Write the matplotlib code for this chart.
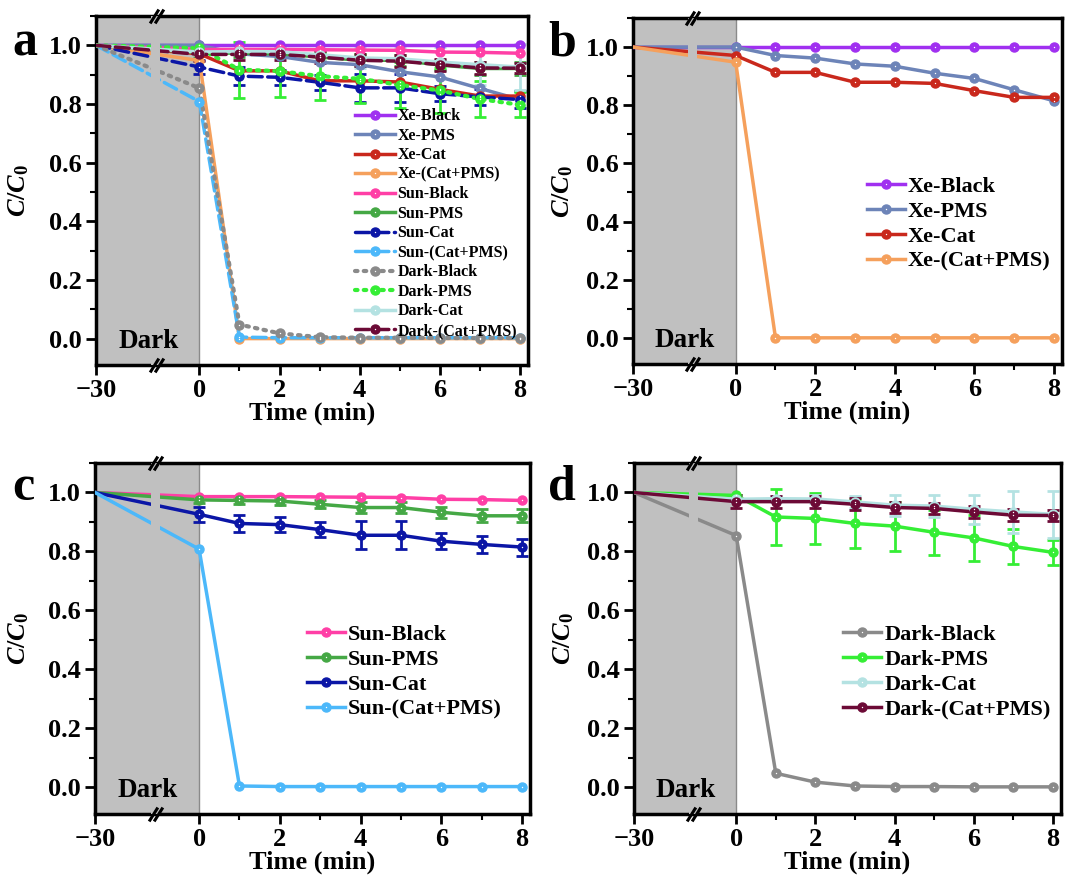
import matplotlib.pyplot as plt
import numpy as np
from matplotlib.transforms import blended_transform_factory
from matplotlib.ticker import MultipleLocator

plt.rcParams['font.family'] = 'Liberation Serif'
plt.rcParams['font.weight'] = 'bold'
plt.rcParams['mathtext.fontset'] = 'custom'
plt.rcParams['mathtext.it'] = 'Liberation Serif:italic:bold'
plt.rcParams['mathtext.rm'] = 'Liberation Serif:bold'

# time points (min), -30 is the dark adsorption start
time = [-30, 0, 1, 2, 3, 4, 5, 6, 7, 8]

xe_black = [1.0, 1.0, 1.0, 1.0, 1.0, 1.0, 1.0, 1.0, 1.0, 1.0]
xe_pms = [1.0, 1.0, 0.971, 0.962, 0.942, 0.934, 0.910, 0.892, 0.853, 0.815]
xe_cat = [1.0, 0.971, 0.913, 0.913, 0.879, 0.879, 0.875, 0.850, 0.827, 0.827]
xe_cat_pms = [1.0, 0.948, 0.0, 0.0, 0.0, 0.0, 0.0, 0.0, 0.0, 0.0]

sun_black = [1.0, 0.986, 0.986, 0.986, 0.985, 0.984, 0.983, 0.977, 0.976, 0.973]
sun_pms = [1.0, 0.975, 0.973, 0.971, 0.960, 0.949, 0.949, 0.933, 0.921, 0.921]
sun_pms_err = [0.012, 0.012, 0.012, 0.014, 0.018, 0.018, 0.018, 0.022, 0.022]
sun_cat = [1.0, 0.926, 0.895, 0.891, 0.874, 0.855, 0.855, 0.835, 0.824, 0.815]
sun_cat_err = [0.025, 0.03, 0.026, 0.025, 0.048, 0.048, 0.026, 0.028, 0.029]
sun_cat_pms = [1.0, 0.808, 0.005, 0.003, 0.003, 0.003, 0.003, 0.003, 0.003, 0.003]

dark_black = [1.0, 0.854, 0.048, 0.018, 0.005, 0.003, 0.003, 0.002, 0.002, 0.002]
dark_pms = [1.0, 0.99, 0.917, 0.912, 0.895, 0.886, 0.865, 0.846, 0.817, 0.797]
dark_pms_err = [0.0, 0.095, 0.087, 0.083, 0.083, 0.077, 0.077, 0.06, 0.043]
dark_cat = [1.0, 0.977, 0.979, 0.978, 0.968, 0.957, 0.954, 0.943, 0.934, 0.926]
dark_cat_err = [0.01, 0.01, 0.015, 0.02, 0.035, 0.037, 0.05, 0.07, 0.08]
dark_cat_pms = [1.0, 0.969, 0.969, 0.969, 0.960, 0.949, 0.946, 0.934, 0.923, 0.922]
dark_cat_pms_err = [0.022, 0.02, 0.02, 0.02, 0.02, 0.02, 0.02, 0.02, 0.017]

XS = 2.58 / 30.0  # compression of the dark period


def fwd(t):
    t = np.asarray(t, dtype=float)
    return np.where(t < 0, t * XS, t)


def inv(u):
    u = np.asarray(u, dtype=float)
    return np.where(u < 0, u / XS, u)


GRAY = '#c0c0c0'
DOTTED = (0, (0.6, 1.5))
DASHED = (0, (4, 1.6))


def setup(ax, bottom):
    ax.set_xscale('function', functions=(fwd, inv))
    ax.set_xlim(-30, 8.2)
    ax.set_ylim(bottom, 1.1)
    ax.axvspan(-30, 0, facecolor=GRAY, edgecolor='none', zorder=0)
    ax.axvline(0, color='#8a8a8a', lw=1, zorder=1)
    # gap in the lines at the axis break
    ax.axvspan(-14.0, -11.3, facecolor=GRAY, edgecolor='none', zorder=8)
    ax.set_xticks([-30, 0, 2, 4, 6, 8])
    ax.set_xticklabels(['\u221230', '0', '2', '4', '6', '8'])
    ax.set_xticks([1, 3, 5, 7], minor=True)
    ax.set_yticks([0.0, 0.2, 0.4, 0.6, 0.8, 1.0])
    ax.set_yticklabels(['0.0', '0.2', '0.4', '0.6', '0.8', '1.0'])
    ax.yaxis.set_minor_locator(MultipleLocator(0.1))
    ax.tick_params(which='major', direction='out', length=7, width=2,
                   labelsize=19, pad=3)
    ax.tick_params(which='minor', direction='out', length=4, width=1.5)
    for s in ax.spines.values():
        s.set_linewidth(2.5)
    ax.set_xlabel('Time (min)', fontsize=19, fontweight='bold', labelpad=0)
    ax.set_ylabel(r'$C/C_0$', fontsize=19)
    ax.text(-14.8, -0.01, 'Dark', fontsize=19.5, fontweight='bold',
            ha='center', va='center', zorder=9)
    trans = blended_transform_factory(ax.transData, ax.transAxes)
    for yy in (0, 1):
        ax.plot([-13.3, -11.8], [yy, yy], ls='none', marker=[(-1, -1.6), (1, 1.6)],
                ms=10, mew=2.2, color='k', transform=trans, clip_on=False, zorder=10)


def draw(ax, vals, color, ls='-', err=None, lw=2.5, ms=6.5):
    line, = ax.plot(time, vals, color=color, ls=ls, lw=lw, zorder=3,
                    dash_capstyle='round')
    mk, = ax.plot(time[1:], vals[1:], ls='none', marker='o', ms=ms,
                  color=color, zorder=4)
    dot, = ax.plot(time[1:], vals[1:], ls='none', marker='o', ms=1.0,
                   mew=0, color='white', zorder=5)
    if err is not None:
        ax.errorbar(time[1:], vals[1:], yerr=err, fmt='none', ecolor=color,
                    elinewidth=2, capsize=4, capthick=2, zorder=2)
    return (line, mk, dot)


fig = plt.figure(figsize=(10.65, 8.83), dpi=100)
W, H = 1065.0, 883.0
ax_a = fig.add_axes([96 / W, 1 - 365 / H, 432 / W, 349 / H])
ax_b = fig.add_axes([633 / W, 1 - 364 / H, 429 / W, 346 / H])
ax_c = fig.add_axes([95 / W, 1 - 814 / H, 435 / W, 351 / H])
ax_d = fig.add_axes([634 / W, 1 - 814 / H, 427 / W, 351 / H])

c_xe_black = '#a030f0'
c_xe_pms = '#6d84b8'
c_xe_cat = '#c9281c'
c_xe_cat_pms = '#f5a05c'
c_sun_black = '#ff3fa6'
c_sun_pms = '#45a845'
c_sun_cat = '#0b16a6'
c_sun_cat_pms = '#4cb8fa'
c_dark_black = '#8a8a8a'
c_dark_pms = '#35ee35'
c_dark_cat = '#b4e2e2'
c_dark_cat_pms = '#6c0a36'

for ax in (ax_a, ax_b, ax_c, ax_d):
    setup(ax, -0.09)

# panel a: all conditions
h = []
h.append(draw(ax_a, xe_black, c_xe_black))
h.append(draw(ax_a, xe_pms, c_xe_pms))
h.append(draw(ax_a, xe_cat, c_xe_cat))
h.append(draw(ax_a, xe_cat_pms, c_xe_cat_pms))
h.append(draw(ax_a, sun_black, c_sun_black))
h.append(draw(ax_a, sun_pms, c_sun_pms, err=sun_pms_err))
h.append(draw(ax_a, sun_cat, c_sun_cat, ls=DASHED, err=sun_cat_err))
h.append(draw(ax_a, sun_cat_pms, c_sun_cat_pms, ls=DASHED))
h.append(draw(ax_a, dark_black, c_dark_black, ls=DOTTED, lw=3))
h.append(draw(ax_a, dark_pms, c_dark_pms, ls=DOTTED, lw=3, err=dark_pms_err))
h.append(draw(ax_a, dark_cat, c_dark_cat, err=dark_cat_err))
h.append(draw(ax_a, dark_cat_pms, c_dark_cat_pms, ls=DASHED, err=dark_cat_pms_err))
labels_a = ['Xe-Black', 'Xe-PMS', 'Xe-Cat', 'Xe-(Cat+PMS)',
            'Sun-Black', 'Sun-PMS', 'Sun-Cat', 'Sun-(Cat+PMS)',
            'Dark-Black', 'Dark-PMS', 'Dark-Cat', 'Dark-(Cat+PMS)']
ax_a.legend(h, labels_a, loc='center left', bbox_to_anchor=(0.60, 0.405),
            frameon=False, prop={'size': 11.5, 'weight': 'bold'},
            handlelength=2.5, handletextpad=0.15, labelspacing=0.22,
            borderpad=0, borderaxespad=0)

# panel b: Xe lamp
hb = [draw(ax_b, xe_black, c_xe_black),
      draw(ax_b, xe_pms, c_xe_pms),
      draw(ax_b, xe_cat, c_xe_cat),
      draw(ax_b, xe_cat_pms, c_xe_cat_pms)]
ax_b.legend(hb, ['Xe-Black', 'Xe-PMS', 'Xe-Cat', 'Xe-(Cat+PMS)'],
            loc='center left', bbox_to_anchor=(0.545, 0.405), frameon=False,
            prop={'size': 16, 'weight': 'bold'}, handlelength=1.7,
            handletextpad=0.15, labelspacing=0.2, borderpad=0, borderaxespad=0)

# panel c: sunlight
hc = [draw(ax_c, sun_black, c_sun_black),
      draw(ax_c, sun_pms, c_sun_pms, err=sun_pms_err),
      draw(ax_c, sun_cat, c_sun_cat, err=sun_cat_err),
      draw(ax_c, sun_cat_pms, c_sun_cat_pms)]
ax_c.legend(hc, ['Sun-Black', 'Sun-PMS', 'Sun-Cat', 'Sun-(Cat+PMS)'],
            loc='center left', bbox_to_anchor=(0.487, 0.404), frameon=False,
            prop={'size': 16, 'weight': 'bold'}, handlelength=1.7,
            handletextpad=0.15, labelspacing=0.2, borderpad=0, borderaxespad=0)

# panel d: dark
hd = [draw(ax_d, dark_black, c_dark_black),
      draw(ax_d, dark_pms, c_dark_pms, err=dark_pms_err),
      draw(ax_d, dark_cat, c_dark_cat, err=dark_cat_err),
      draw(ax_d, dark_cat_pms, c_dark_cat_pms, err=dark_cat_pms_err)]
ax_d.legend(hd, ['Dark-Black', 'Dark-PMS', 'Dark-Cat', 'Dark-(Cat+PMS)'],
            loc='center left', bbox_to_anchor=(0.49, 0.404), frameon=False,
            prop={'size': 16, 'weight': 'bold'}, handlelength=1.7,
            handletextpad=0.15, labelspacing=0.2, borderpad=0, borderaxespad=0)

for ax, xl in ((ax_a, -0.15), (ax_b, -0.135), (ax_c, -0.147), (ax_d, -0.135)):
    ax.yaxis.set_label_coords(xl, 0.5)

for txt, x, y in (('a', 12, 55), ('b', 548, 55), ('c', 12, 500), ('d', 548, 500)):
    fig.text(x / W, 1 - y / H, txt, fontsize=36, fontweight='bold',
             ha='left', va='baseline')

fig.savefig('out.png', dpi=100)
